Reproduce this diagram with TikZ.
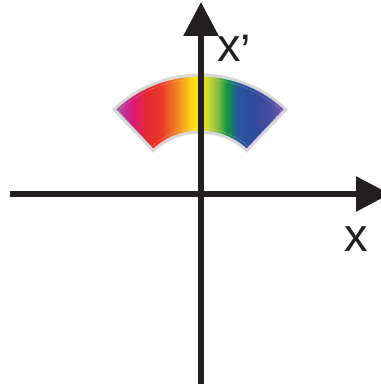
\documentclass[tikz,border=0pt]{standalone}
\usepackage{fontspec}
\setmainfont{Liberation Sans}
\usetikzlibrary{arrows.meta}
\definecolor{c1}{HTML}{9E5BA9}
\definecolor{c2}{HTML}{D9187F}
\definecolor{c3}{HTML}{E42A2C}
\definecolor{c4}{HTML}{E8392A}
\definecolor{c5}{HTML}{F28A22}
\definecolor{c6}{HTML}{FCE10B}
\definecolor{c7}{HTML}{FBE60B}
\definecolor{c8}{HTML}{CAD833}
\definecolor{c9}{HTML}{80BC44}
\definecolor{c10}{HTML}{0E9447}
\definecolor{c11}{HTML}{2A55A0}
\definecolor{c12}{HTML}{2E4A9C}
\definecolor{c13}{HTML}{4B4B9F}
\definecolor{c14}{HTML}{8A5BA6}
\definecolor{rimgray}{HTML}{D8D8D8}
\definecolor{axisblack}{HTML}{231F20}
\pgfdeclarehorizontalshading{spectrum}{100bp}{
  color(0bp)=(c1); color(25bp)=(c1); color(29.9bp)=(c2); color(34.9bp)=(c3);
  color(38.7bp)=(c4); color(43.6bp)=(c5); color(48bp)=(c6); color(50bp)=(c7);
  color(52.3bp)=(c8); color(55.2bp)=(c9); color(57.8bp)=(c10); color(61bp)=(c11);
  color(65.4bp)=(c12); color(70.6bp)=(c13); color(75bp)=(c14); color(100bp)=(c14)}
\tikzset{
  axis/.style={line width=6pt, draw=axisblack, -{Triangle[length=34pt,width=34pt]}},
  wedge/.style={shading=spectrum, draw=rimgray, line width=3pt},
  axlabel/.style={font=\fontsize{47}{50}\selectfont, text=axisblack, inner sep=0pt, anchor=base west}
}
\begin{document}
\begin{tikzpicture}[x=1pt,y=1pt]
\useasboundingbox (0,0) rectangle (381,384);
\coordinate (C) at (200,184);
\coordinate (O) at (201,190);
\coordinate (xs) at (10,190);
\coordinate (xe) at (390,190);
\coordinate (ys) at (201,0);
\coordinate (ye) at (201,382);
% spectral wedge
\path[wedge] ([shift={(46.5:125)}]C) arc[start angle=46.5,end angle=133.5,radius=125]
  -- ([shift={(133.5:68)}]C) arc[start angle=133.5,end angle=46.5,radius=68] -- cycle;
\draw[white, line width=0.4pt, opacity=0.5, dashed, dash pattern=on 1pt off 1pt]
  ([shift={(47.5:121)}]C) arc[start angle=47.5,end angle=132.5,radius=121]
  -- ([shift={(132.5:72)}]C) arc[start angle=132.5,end angle=47.5,radius=72] -- cycle;
% axes
\draw[axis] (xs) -- (xe);
\draw[axis] (ys) -- (ye);
% labels
\node[axlabel] (lxp) at (217,322) {x\raisebox{-5pt}{’}};
\node[axlabel] (lx) at (344,132) {x};
\end{tikzpicture}
\end{document}
